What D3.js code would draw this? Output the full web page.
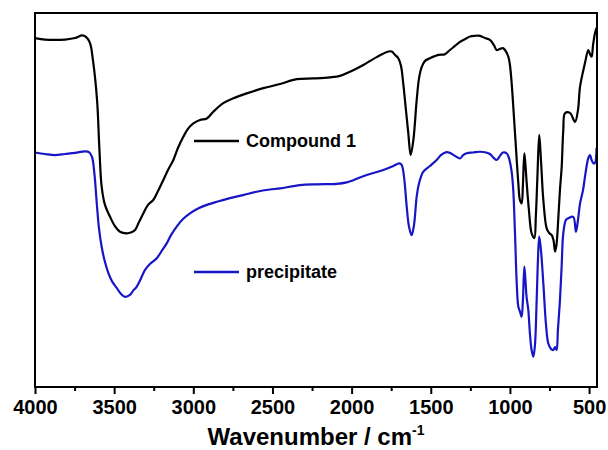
<!DOCTYPE html>
<html>
<head>
<meta charset="utf-8">
<script src="https://cdn.jsdelivr.net/npm/d3@7"></script>
<style>
  body { margin: 0; background: #fff; }
  svg { display: block; font-family: "Liberation Sans", Arial, sans-serif; }
</style>
</head>
<body>
<svg id="plot-ir" width="608" height="450"></svg>
<script>
// wavenumber (cm-1), transmittance (a.u.)
const compoundWave = [4000, 3937, 3874, 3810, 3747, 3703, 3678, 3653, 3634, 3608, 3593, 3579, 3558, 3526, 3495, 3463, 3421, 3394, 3368, 3343, 3316, 3286, 3253, 3223, 3190, 3160, 3126, 3097, 3063, 3034, 3000, 2958, 2915, 2874, 2811, 2747, 2663, 2558, 2452, 2347, 2242, 2137, 2073, 2010, 1926, 1842, 1768, 1747, 1726, 1705, 1688, 1674, 1657, 1642, 1627, 1610, 1589, 1574, 1557, 1536, 1505, 1452, 1410, 1379, 1347, 1315, 1284, 1252, 1221, 1189, 1158, 1126, 1101, 1084, 1063, 1044, 1031, 1010, 1000, 989, 968, 947, 937, 926, 918, 909, 902, 894, 880, 863, 846, 836, 826, 815, 804, 789, 768, 753, 736, 725, 715, 706, 694, 684, 673, 663, 652, 621, 589, 570, 557, 526, 505, 494, 484, 475, 463, 453];
const compoundT = [93.3, 92.9, 92.8, 92.9, 93.3, 94.0, 93.6, 92.0, 87.4, 76.7, 63.4, 53.6, 48.7, 45.5, 43.0, 41.5, 41.1, 41.3, 42.0, 44.1, 46.4, 48.7, 50.0, 52.4, 55.3, 58.0, 60.7, 63.9, 66.9, 69.0, 70.5, 71.4, 71.8, 73.6, 75.9, 77.2, 78.5, 79.9, 81.0, 82.3, 82.5, 82.8, 83.2, 84.3, 86.1, 88.2, 89.7, 89.7, 88.8, 87.9, 85.8, 81.2, 74.1, 67.9, 62.0, 66.0, 76.7, 82.6, 85.6, 87.2, 87.9, 88.8, 89.0, 90.1, 91.2, 92.3, 93.0, 93.7, 93.9, 93.9, 93.3, 92.8, 91.4, 90.1, 90.4, 90.6, 90.1, 88.3, 86.1, 81.2, 67.9, 54.5, 50.0, 49.1, 54.0, 62.5, 59.4, 54.5, 47.3, 41.1, 39.8, 46.0, 56.7, 67.4, 60.7, 50.0, 42.4, 41.2, 40.6, 39.3, 36.2, 38.0, 45.5, 52.7, 58.9, 68.7, 73.2, 73.3, 70.9, 74.1, 80.3, 86.6, 90.1, 89.0, 88.3, 91.4, 94.5, 96.0];

const precipWave = [4000, 3937, 3874, 3810, 3747, 3684, 3659, 3640, 3624, 3610, 3596, 3579, 3558, 3537, 3514, 3484, 3457, 3431, 3400, 3381, 3358, 3330, 3305, 3274, 3231, 3204, 3168, 3141, 3105, 3065, 3021, 2970, 2915, 2844, 2768, 2686, 2600, 2516, 2452, 2326, 2221, 2094, 2031, 1989, 1905, 1800, 1737, 1699, 1684, 1669, 1652, 1638, 1621, 1606, 1589, 1574, 1547, 1505, 1463, 1436, 1400, 1379, 1347, 1315, 1296, 1273, 1233, 1189, 1151, 1126, 1101, 1084, 1063, 1044, 1021, 1006, 989, 979, 968, 957, 947, 936, 926, 918, 909, 902, 895, 884, 873, 863, 852, 842, 831, 823, 815, 804, 789, 772, 758, 741, 726, 715, 705, 697, 684, 673, 663, 646, 631, 600, 583, 570, 557, 538, 526, 505, 494, 484, 473, 463, 453];
const precipT = [62.7, 62.3, 62.0, 62.3, 62.6, 63.0, 62.8, 61.5, 56.7, 49.2, 42.5, 37.5, 33.4, 30.5, 28.3, 26.5, 24.9, 24.1, 24.6, 25.7, 26.8, 29.1, 31.3, 32.9, 34.4, 36.1, 38.4, 40.6, 42.9, 44.9, 46.4, 47.7, 48.7, 49.6, 50.5, 51.3, 52.2, 52.8, 53.1, 54.0, 54.2, 54.3, 54.7, 55.3, 56.7, 58.0, 59.1, 59.8, 59.4, 56.2, 48.2, 43.0, 40.6, 43.3, 50.9, 54.5, 57.6, 59.1, 60.7, 62.0, 62.8, 62.6, 61.8, 61.1, 62.0, 62.5, 62.7, 62.9, 62.7, 62.3, 61.2, 60.7, 61.8, 62.7, 62.5, 61.2, 57.5, 52.7, 41.1, 27.7, 21.5, 20.1, 18.8, 23.3, 32.2, 28.6, 24.1, 20.6, 13.9, 9.9, 8.1, 11.2, 23.3, 34.0, 40.2, 36.6, 27.7, 16.6, 11.7, 10.2, 9.9, 10.7, 9.9, 15.2, 23.3, 32.6, 41.1, 44.7, 45.1, 45.5, 41.5, 44.7, 49.1, 52.7, 56.2, 61.2, 62.0, 60.7, 59.8, 59.9, 63.9];

const seriesNames = ['Compound 1', 'precipitate'];
const seriesColors = ['#000000', '#1616c6'];
const majorTicks = [4000, 3500, 3000, 2500, 2000, 1500, 1000, 500];
const minorTicks = [3750, 3250, 2750, 2250, 1750, 1250, 750];

let svg = d3.select('#plot-ir'),
    margin = {top: 13, right: 11, bottom: 63, left: 35},
    width = +svg.attr('width') - margin.left - margin.right,
    height = +svg.attr('height') - margin.top - margin.bottom;

let x = d3.scaleLinear().domain([4000, 450]).range([0, width]),
    y = d3.scaleLinear().domain([0, 100]).range([height, 0]);

let g = svg.append('g')
    .attr('transform', 'translate(' + margin.left + ',' + margin.top + ')');

let series = [
    d3.zip(compoundWave, compoundT),
    d3.zip(precipWave, precipT)
];

let line = d3.line()
    .x(d => x(d[0]))
    .y(d => y(d[1]))
    .curve(d3.curveCatmullRom.alpha(0.5));

g.selectAll('.trace')
    .data(series)
    .enter()
    .append('path')
    .attr('class', 'trace')
    .attr('fill', 'none')
    .attr('stroke', (d, i) => seriesColors[i])
    .attr('stroke-width', 2.2)
    .attr('stroke-linejoin', 'round')
    .attr('d', line);

// frame
g.append('rect')
    .attr('width', width)
    .attr('height', height)
    .attr('fill', 'none')
    .attr('stroke', '#000')
    .attr('stroke-width', 2);

// x axis
let xAxis = g.append('g')
    .attr('transform', 'translate(0,' + height + ')')
    .call(d3.axisBottom(x).tickValues(majorTicks).tickSize(7).tickPadding(6).tickFormat(d3.format('d')));
xAxis.select('.domain').remove();
xAxis.selectAll('line').attr('stroke-width', 2);
xAxis.selectAll('text')
    .attr('font-size', 20)
    .attr('font-weight', 'bold')
    .attr('fill', '#000')
    .attr('font-family', '"Liberation Sans", Arial, sans-serif');

g.append('g')
    .attr('transform', 'translate(0,' + height + ')')
    .call(d3.axisBottom(x).tickValues(minorTicks).tickSize(4).tickFormat(''))
    .call(a => a.select('.domain').remove())
    .selectAll('line').attr('stroke-width', 2);

let title = svg.append('text')
    .attr('x', margin.left + width / 2)
    .attr('y', 445)
    .attr('text-anchor', 'middle')
    .attr('font-size', 24)
    .attr('font-weight', 'bold')
    .text('Wavenumber / cm');
title.append('tspan')
    .attr('dy', -10)
    .attr('font-size', 14)
    .text('-1');

// legend
let legendY = [141, 272];
let legend = g.selectAll('.legend')
    .data(seriesNames)
    .enter()
    .append('g')
    .attr('class', 'legend')
    .attr('transform', (d, i) => 'translate(' + (194 - margin.left) + ',' + (legendY[i] - margin.top) + ')');

legend.append('line')
    .attr('x1', 0).attr('x2', 45)
    .attr('stroke', (d, i) => seriesColors[i])
    .attr('stroke-width', 2.5);

legend.append('text')
    .attr('x', 52)
    .attr('dy', 6)
    .attr('font-size', 18)
    .attr('font-weight', 'bold')
    .text(d => d);
</script>
</body>
</html>
